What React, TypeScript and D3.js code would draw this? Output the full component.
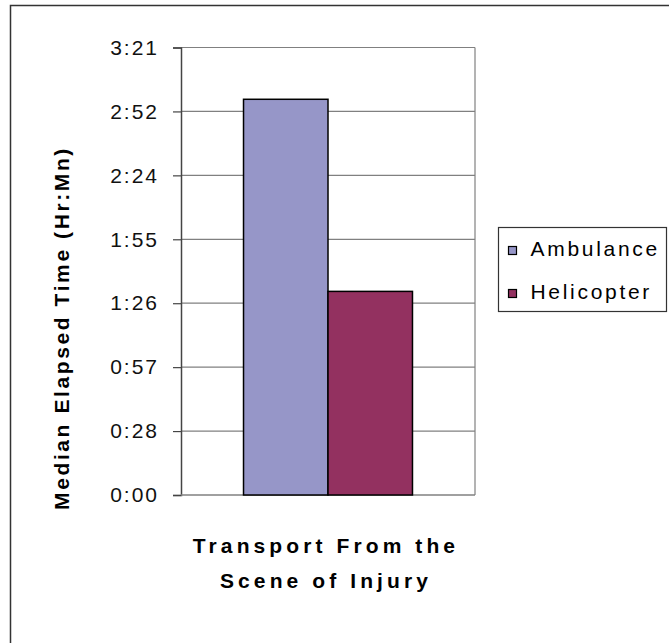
import React, { useEffect, useRef } from 'react';
import * as d3 from 'd3';

// values are fractions of a day (Excel time)
const categories = ['Transport From the Scene of Injury'];
const seriesNames = ['Ambulance', 'Helicopter'];
const seriesValues = [0.1238, 0.0637];
const seriesColors = ['#9696C8', '#933160'];
const tickValues = [0, 0.02, 0.04, 0.06, 0.08, 0.1, 0.12, 0.14];
const tickLabels = ['0:00', '0:28', '0:57', '1:26', '1:55', '2:24', '2:52', '3:21'];

const W = 669;
const H = 643;
const FONT = "Arial, 'Liberation Sans', sans-serif";

export default function App() {
  const ref = useRef<SVGSVGElement>(null);

  useEffect(() => {
    const svg = d3.select(ref.current);
    svg.selectAll('*').remove();

    // chart frame (runs off the right / bottom edge)
    svg.append('rect')
      .attr('x', 10.5).attr('y', 5.5)
      .attr('width', W + 20).attr('height', H + 20)
      .attr('fill', '#fff').attr('stroke', '#333').attr('stroke-width', 1.5);

    const plot = { left: 181, right: 475, top: 47.5, bottom: 495 };

    const y = d3.scaleLinear().domain([0, 0.14]).range([plot.bottom, plot.top]);
    const x0 = d3.scaleBand().domain(categories).range([plot.left, plot.right]).paddingInner(0).paddingOuter(0.37);
    const x1 = d3.scaleBand().domain(seriesNames).range([0, x0.bandwidth()]);

    // gridlines
    svg.append('g').selectAll('line')
      .data(tickValues.slice(1))
      .enter().append('line')
      .attr('x1', plot.left).attr('x2', plot.right)
      .attr('y1', d => y(d)).attr('y2', d => y(d))
      .attr('stroke', '#808080').attr('stroke-width', 1.2);

    // right border of plot area
    svg.append('line')
      .attr('x1', plot.right).attr('x2', plot.right)
      .attr('y1', plot.top).attr('y2', plot.bottom)
      .attr('stroke', '#808080').attr('stroke-width', 1.2);

    // y axis
    const yAxis = d3.axisLeft(y)
      .tickValues(tickValues)
      .tickSize(8)
      .tickPadding(14)
      .tickFormat((d, i) => tickLabels[i]);
    const ga = svg.append('g')
      .attr('transform', `translate(${plot.left},0)`)
      .call(yAxis);
    ga.select('.domain').attr('stroke', '#444').attr('stroke-width', 1.5);
    ga.selectAll('.tick line').attr('stroke', '#444').attr('stroke-width', 1.2);
    ga.selectAll('.tick text')
      .attr('fill', '#111')
      .style('font-family', FONT)
      .style('font-size', '21px')
      .style('letter-spacing', '2px');

    // x axis baseline
    svg.append('line')
      .attr('x1', plot.left).attr('x2', plot.right)
      .attr('y1', plot.bottom).attr('y2', plot.bottom)
      .attr('stroke', '#808080').attr('stroke-width', 1.5);

    // bars
    svg.append('g').selectAll('rect')
      .data(seriesValues)
      .enter().append('rect')
      .attr('x', (d, i) => (x0(categories[0]) as number) + (x1(seriesNames[i]) as number))
      .attr('width', x1.bandwidth())
      .attr('y', d => y(d))
      .attr('height', d => plot.bottom - y(d))
      .attr('fill', (d, i) => seriesColors[i])
      .attr('stroke', '#000').attr('stroke-width', 1.5);

    // x title
    const xt = svg.append('text')
      .attr('text-anchor', 'middle')
      .style('font-family', FONT)
      .style('font-weight', 'bold')
      .style('font-size', '21px')
      .style('letter-spacing', '4.1px')
      .attr('fill', '#000');
    xt.append('tspan').attr('x', 326).attr('y', 553).text('Transport From the');
    xt.append('tspan').attr('x', 326).attr('y', 588).text('Scene of Injury');

    // y title
    svg.append('text')
      .attr('transform', 'translate(69,328) rotate(-90)')
      .attr('text-anchor', 'middle')
      .style('font-family', FONT)
      .style('font-weight', 'bold')
      .style('font-size', '21px')
      .style('letter-spacing', '2.6px')
      .attr('fill', '#000')
      .text('Median Elapsed Time (Hr:Mn)');

    // legend
    const lg = svg.append('g').attr('transform', 'translate(498.5,227.5)');
    lg.append('rect')
      .attr('width', 168).attr('height', 84)
      .attr('fill', '#fff').attr('stroke', '#333').attr('stroke-width', 1.2);
    const items = lg.selectAll('.item')
      .data(seriesNames)
      .enter().append('g')
      .attr('class', 'item')
      .attr('transform', (d, i) => `translate(10,${19 + i * 43})`);
    items.append('rect')
      .attr('width', 8).attr('height', 8)
      .attr('fill', (d, i) => seriesColors[i])
      .attr('stroke', '#000').attr('stroke-width', 1.2);
    items.append('text')
      .attr('x', 22).attr('y', 9)
      .style('font-family', FONT)
      .style('font-size', '21px')
      .style('letter-spacing', '2.7px')
      .attr('fill', '#000')
      .text(d => d);
  }, []);

  return (
    <svg ref={ref} width={W} height={H}
      style={{ display: 'block', position: 'absolute', left: 0, top: 0 }} />
  );
}
